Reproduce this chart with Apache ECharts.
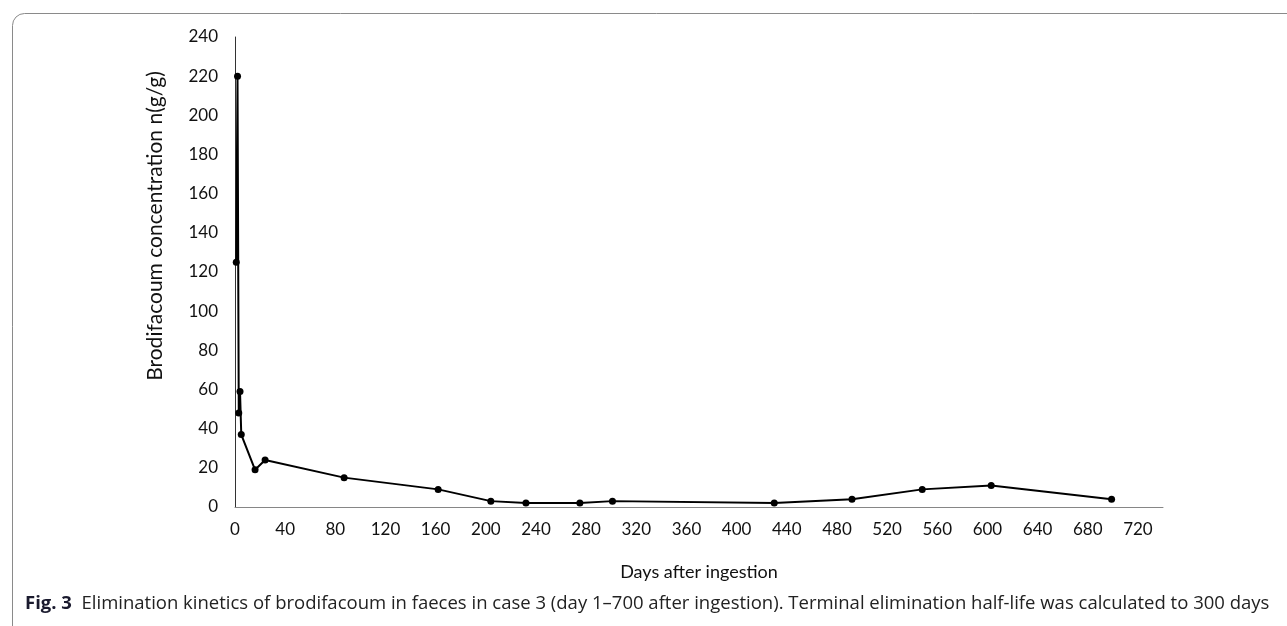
<!DOCTYPE html>
<html>
<head>
<meta charset="utf-8">
<script src="https://cdn.jsdelivr.net/npm/echarts@6/dist/echarts.min.js"></script>
<style>
html,body{margin:0;padding:0;background:#fff;}
#chart{width:1287px;height:626px;}
</style>
</head>
<body>
<div id="chart"></div>
<script>
// Data
const days = [1, 2, 3, 4, 5, 16, 24, 87, 162, 204, 232, 275, 301, 430, 492, 548, 603, 699];
const concentration = [125, 220, 48, 59, 37, 19, 24, 15, 9, 3, 2, 2, 3, 2, 4, 9, 11, 4];
const xTitle = 'Days after ingestion';
const yTitle = 'Brodifacoum concentration n(g/g)';
const captionBold = 'Fig. 3';
const captionText = 'Elimination kinetics of brodifacoum in faeces in case 3 (day 1\u2013700 after ingestion). Terminal elimination half-life was calculated to 300 days';

const points = days.map((d, i) => [d, concentration[i]]);
const chart = echarts.init(document.getElementById('chart'), null, {renderer: 'canvas'});
const FONT = 'Lato';
chart.setOption({
  animation: false,
  backgroundColor: '#fff',
  grid: {left: 235, right: 124, top: 37, bottom: 119, containLabel: false},
  xAxis: {
    type: 'value', min: 0, max: 740, interval: 40,
    axisLine: {show: true, lineStyle: {color: '#868686', width: 1}},
    axisTick: {show: false},
    splitLine: {show: false},
    axisLabel: {showMaxLabel: false, color: '#111', fontSize: 17, fontFamily: FONT, margin: 14},
    name: xTitle, nameLocation: 'middle', nameGap: 56,
    nameTextStyle: {color: '#111', fontSize: 18, fontFamily: FONT}
  },
  yAxis: {
    type: 'value', min: 0, max: 240, interval: 20,
    axisLine: {show: true, lineStyle: {color: '#333', width: 1}},
    axisTick: {show: false},
    splitLine: {show: false},
    axisLabel: {color: '#111', fontSize: 17, fontFamily: FONT, margin: 17}
  },
  series: [{
    type: 'line',
    data: points,
    symbol: 'circle', symbolSize: 7,
    lineStyle: {color: '#000', width: 2},
    itemStyle: {color: '#000'}
  }],
  graphic: [
    {type: 'rect', left: 10, top: 11, shape: {width: 1300, height: 640, r: 12},
     style: {fill: 'none', stroke: '#8a8a8a', lineWidth: 1}, silent: true},
    {type: 'text', x: 155, y: 226, rotation: Math.PI / 2,
     style: {text: yTitle, fontFamily: FONT, fontSize: 21, fill: '#111',
             align: 'center', verticalAlign: 'middle'}},
    {type: 'text', left: 25, top: 594,
     style: {
       text: '{b|' + captionBold + '}  ' + captionText,
       fontFamily: 'Open Sans', fontSize: 18.5, fill: '#222',
       rich: {b: {fontWeight: 'bold', fontFamily: 'Open Sans', fontSize: 18.5, fill: '#1a1a2e'}}
     }}
  ]
});
</script>
</body>
</html>
